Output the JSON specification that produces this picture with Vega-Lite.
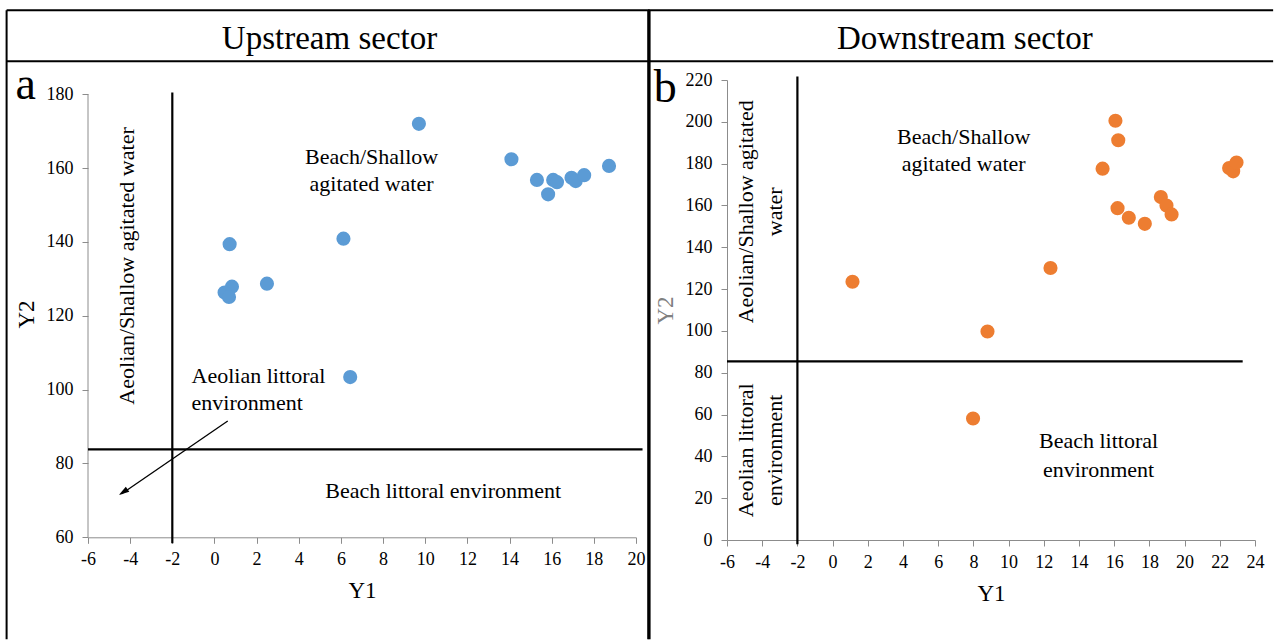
{
  "$schema": "https://vega.github.io/schema/vega-lite/v6.json",
  "padding": {"left": 5, "top": 9, "right": 0, "bottom": 0},
  "spacing": -4,
  "config": {
    "view": {"stroke": null},
    "font": "Liberation Serif",
    "axis": {
      "grid": false,
      "domainColor": "#8c8c8c",
      "tickColor": "#8c8c8c",
      "labelColor": "#000000",
      "labelFont": "Liberation Serif",
      "labelFontSize": 18,
      "titleFont": "Liberation Serif",
      "titleFontSize": 23,
      "titleFontWeight": "normal",
      "titleColor": "#000000",
      "tickSize": 6,
      "labelPadding": 7,
      "labelFlush": false,
      "labelOverlap": false
    },
    "axisX": {"titlePadding": 11},
    "axisY": {"titlePadding": 8, "labelPadding": 9}
  },
  "datasets": {
    "pointsA": [
      {"x": 9.70, "y": 172.0}, {"x": 14.09, "y": 162.4}, {"x": 15.30, "y": 156.8},
      {"x": 16.07, "y": 156.8}, {"x": 15.83, "y": 152.9}, {"x": 16.25, "y": 156.2},
      {"x": 16.94, "y": 157.4}, {"x": 17.14, "y": 156.5}, {"x": 17.54, "y": 158.1},
      {"x": 18.72, "y": 160.6}, {"x": 6.12, "y": 140.9}, {"x": 0.72, "y": 139.4},
      {"x": 0.83, "y": 127.9}, {"x": 0.48, "y": 126.3}, {"x": 0.69, "y": 125.1},
      {"x": 2.49, "y": 128.7}, {"x": 6.44, "y": 103.4}
    ],
    "pointsB": [
      {"x": 16.07, "y": 200.5}, {"x": 16.23, "y": 191.2}, {"x": 15.34, "y": 177.6},
      {"x": 16.19, "y": 158.7}, {"x": 16.83, "y": 154.1}, {"x": 17.74, "y": 151.2},
      {"x": 18.65, "y": 164.0}, {"x": 18.97, "y": 160.0}, {"x": 19.26, "y": 155.7},
      {"x": 22.53, "y": 177.9}, {"x": 22.76, "y": 176.3}, {"x": 22.95, "y": 180.5},
      {"x": 12.38, "y": 130.1}, {"x": 8.80, "y": 99.7}, {"x": 1.13, "y": 123.5},
      {"x": 7.98, "y": 58.1}
    ],
    "linesA": [
      {"kind": "frame", "x": -9.862, "x2": 20.645, "y": 202.75, "y2": 202.75},
      {"kind": "frame", "x": -9.862, "x2": 20.645, "y": 188.94, "y2": 188.94},
      {"kind": "frame", "x": -9.862, "x2": -9.862, "y": 32.37, "y2": 202.75},
      {"kind": "frame", "x": 20.645, "x2": 20.645, "y": 32.37, "y2": 202.75},
      {"kind": "axis", "x": -6, "x2": -6, "y": 60, "y2": 180},
      {"kind": "divider", "x": -2, "x2": -2, "y": 58.4, "y2": 180.5},
      {"kind": "divider", "x": -6, "x2": 20.31, "y": 83.8, "y2": 83.8},
      {"kind": "arrow", "x": 0.63, "x2": -4.4, "y": 91.5, "y2": 71.8}
    ],
    "linesB": [
      {"kind": "frame", "x": -10.477, "x2": 25.03, "y": 253.33, "y2": 253.33},
      {"kind": "frame", "x": -10.477, "x2": 25.03, "y": 228.94, "y2": 228.94},
      {"kind": "frame", "x": -10.477, "x2": -10.477, "y": -47.5, "y2": 253.33},
      {"kind": "divider", "x": -2, "x2": -2, "y": -2, "y2": 221.7},
      {"kind": "divider", "x": -6, "x2": 23.3, "y": 85.47, "y2": 85.47}
    ],
    "textA": [
      {"kind": "header", "label": "Upstream sector", "x": 5.46, "y": 192.19},
      {"kind": "letter", "label": "a", "x": -8.96, "y": 178.6},
      {"kind": "rot", "label": "Aeolian/Shallow agitated water", "x": -4.17, "y": 133.5},
      {"kind": "center", "label": "Beach/Shallow", "x": 7.455, "y": 161.04},
      {"kind": "center", "label": "agitated water", "x": 7.455, "y": 153.72},
      {"kind": "left", "label": "Aeolian littoral", "x": -1.085, "y": 101.9},
      {"kind": "left", "label": "environment", "x": -1.085, "y": 94.4},
      {"kind": "center", "label": "Beach littoral environment", "x": 10.85, "y": 70.75}
    ],
    "textB": [
      {"kind": "header", "label": "Downstream sector", "x": 7.51, "y": 234.68},
      {"kind": "letter", "label": "b", "x": -9.51, "y": 209.33},
      {"kind": "rot", "label": "Aeolian/Shallow agitated", "x": -4.909, "y": 156.97},
      {"kind": "rot", "label": "water", "x": -3.261, "y": 156.97},
      {"kind": "rot", "label": "Aeolian littoral", "x": -4.909, "y": 42.9},
      {"kind": "rot", "label": "environment", "x": -3.261, "y": 42.9},
      {"kind": "center", "label": "Beach/Shallow", "x": 7.449, "y": 189.2},
      {"kind": "center", "label": "agitated water", "x": 7.449, "y": 176.3},
      {"kind": "center", "label": "Beach littoral", "x": 15.11, "y": 44.1},
      {"kind": "center", "label": "environment", "x": 15.11, "y": 30.2}
    ],
    "arrowA": [
      {"x": -4.33, "y": 72.22}
    ]
  },
  "hconcat": [
    {
      "width": 548,
      "height": 457.3,
      "encoding": {
        "x": {"field": "x", "type": "quantitative",
              "scale": {"domain": [-6, 20], "nice": false, "zero": false},
              "axis": {"title": "Y1", "labelFont": "Liberation Serif", "labelExpr": "replace(datum.label, '\u2212', '-')", "values": [-6, -4, -2, 0, 2, 4, 6, 8, 10, 12, 14, 16, 18, 20]}},
        "y": {"field": "y", "type": "quantitative",
              "scale": {"domain": [60, 183.874], "nice": false, "zero": false},
              "axis": {"title": "Y2", "domain": false, "titleY": 234, "labelFont": "Liberation Serif", "values": [60, 80, 100, 120, 140, 160, 180]}}
      },
      "layer": [
        {
          "data": {"name": "linesA"},
          "transform": [{"filter": "datum.kind === 'frame'"}],
          "mark": {"type": "rule", "color": "#000000", "strokeWidth": 2},
          "encoding": {"x2": {"field": "x2"}, "y2": {"field": "y2"}}
        },
        {
          "data": {"name": "linesA"},
          "transform": [{"filter": "datum.kind === 'axis'"}],
          "mark": {"type": "rule", "color": "#8c8c8c", "strokeWidth": 1},
          "encoding": {"x2": {"field": "x2"}, "y2": {"field": "y2"}}
        },
        {
          "data": {"name": "linesA"},
          "transform": [{"filter": "datum.kind === 'divider'"}],
          "mark": {"type": "rule", "color": "#000000", "strokeWidth": 2.2},
          "encoding": {"x2": {"field": "x2"}, "y2": {"field": "y2"}}
        },
        {
          "data": {"name": "linesA"},
          "transform": [{"filter": "datum.kind === 'arrow'"}],
          "mark": {"type": "rule", "color": "#000000", "strokeWidth": 1.3},
          "encoding": {"x2": {"field": "x2"}, "y2": {"field": "y2"}}
        },
        {
          "data": {"name": "arrowA"},
          "mark": {"type": "point", "shape": "M0,-1L0.6,1L-0.6,1Z", "filled": true, "color": "#000000", "opacity": 1, "size": 110, "angle": 236}
        },
        {
          "data": {"name": "pointsA"},
          "mark": {"type": "point", "shape": "circle", "filled": true, "color": "#5b9bd5", "opacity": 1, "size": 200}
        },
        {
          "data": {"name": "textA"},
          "transform": [{"filter": "datum.kind === 'header'"}],
          "mark": {"type": "text", "fontSize": 33, "align": "center", "baseline": "alphabetic", "color": "#000000"},
          "encoding": {"text": {"field": "label"}}
        },
        {
          "data": {"name": "textA"},
          "transform": [{"filter": "datum.kind === 'letter'"}],
          "mark": {"type": "text", "fontSize": 46, "align": "center", "baseline": "alphabetic", "color": "#000000"},
          "encoding": {"text": {"field": "label"}}
        },
        {
          "data": {"name": "textA"},
          "transform": [{"filter": "datum.kind === 'rot'"}],
          "mark": {"type": "text", "fontSize": 22, "align": "center", "baseline": "middle", "angle": 270, "color": "#000000"},
          "encoding": {"text": {"field": "label"}}
        },
        {
          "data": {"name": "textA"},
          "transform": [{"filter": "datum.kind === 'center'"}],
          "mark": {"type": "text", "fontSize": 22, "align": "center", "baseline": "alphabetic", "color": "#000000"},
          "encoding": {"text": {"field": "label"}}
        },
        {
          "data": {"name": "textA"},
          "transform": [{"filter": "datum.kind === 'left'"}],
          "mark": {"type": "text", "fontSize": 22, "align": "left", "baseline": "alphabetic", "color": "#000000"},
          "encoding": {"text": {"field": "label"}}
        }
      ]
    },
    {
      "width": 528,
      "height": 460,
      "encoding": {
        "x": {"field": "x", "type": "quantitative",
              "scale": {"domain": [-6, 24], "nice": false, "zero": false},
              "axis": {"title": "Y1", "labelFont": "Liberation Serif", "labelExpr": "replace(datum.label, '\u2212', '-')", "values": [-6, -4, -2, 0, 2, 4, 6, 8, 10, 12, 14, 16, 18, 20, 22, 24]}},
        "y": {"field": "y", "type": "quantitative",
              "scale": {"domain": [0, 220], "nice": false, "zero": false},
              "axis": {"title": "Y2", "titleColor": "#808080", "labelFont": "Liberation Serif", "values": [0, 20, 40, 60, 80, 100, 120, 140, 160, 180, 200, 220]}}
      },
      "layer": [
        {
          "data": {"name": "linesB"},
          "transform": [{"filter": "datum.kind === 'frame'"}],
          "mark": {"type": "rule", "color": "#000000", "strokeWidth": 2},
          "encoding": {"x2": {"field": "x2"}, "y2": {"field": "y2"}}
        },
        {
          "data": {"name": "linesB"},
          "transform": [{"filter": "datum.kind === 'divider'"}],
          "mark": {"type": "rule", "color": "#000000", "strokeWidth": 2.2},
          "encoding": {"x2": {"field": "x2"}, "y2": {"field": "y2"}}
        },
        {
          "data": {"name": "pointsB"},
          "mark": {"type": "point", "shape": "circle", "filled": true, "color": "#ed7d31", "opacity": 1, "size": 200}
        },
        {
          "data": {"name": "textB"},
          "transform": [{"filter": "datum.kind === 'header'"}],
          "mark": {"type": "text", "fontSize": 33, "align": "center", "baseline": "alphabetic", "color": "#000000"},
          "encoding": {"text": {"field": "label"}}
        },
        {
          "data": {"name": "textB"},
          "transform": [{"filter": "datum.kind === 'letter'"}],
          "mark": {"type": "text", "fontSize": 46, "align": "center", "baseline": "alphabetic", "color": "#000000"},
          "encoding": {"text": {"field": "label"}}
        },
        {
          "data": {"name": "textB"},
          "transform": [{"filter": "datum.kind === 'rot'"}],
          "mark": {"type": "text", "fontSize": 22, "align": "center", "baseline": "middle", "angle": 270, "color": "#000000"},
          "encoding": {"text": {"field": "label"}}
        },
        {
          "data": {"name": "textB"},
          "transform": [{"filter": "datum.kind === 'center'"}],
          "mark": {"type": "text", "fontSize": 22, "align": "center", "baseline": "alphabetic", "color": "#000000"},
          "encoding": {"text": {"field": "label"}}
        }
      ]
    }
  ]
}
